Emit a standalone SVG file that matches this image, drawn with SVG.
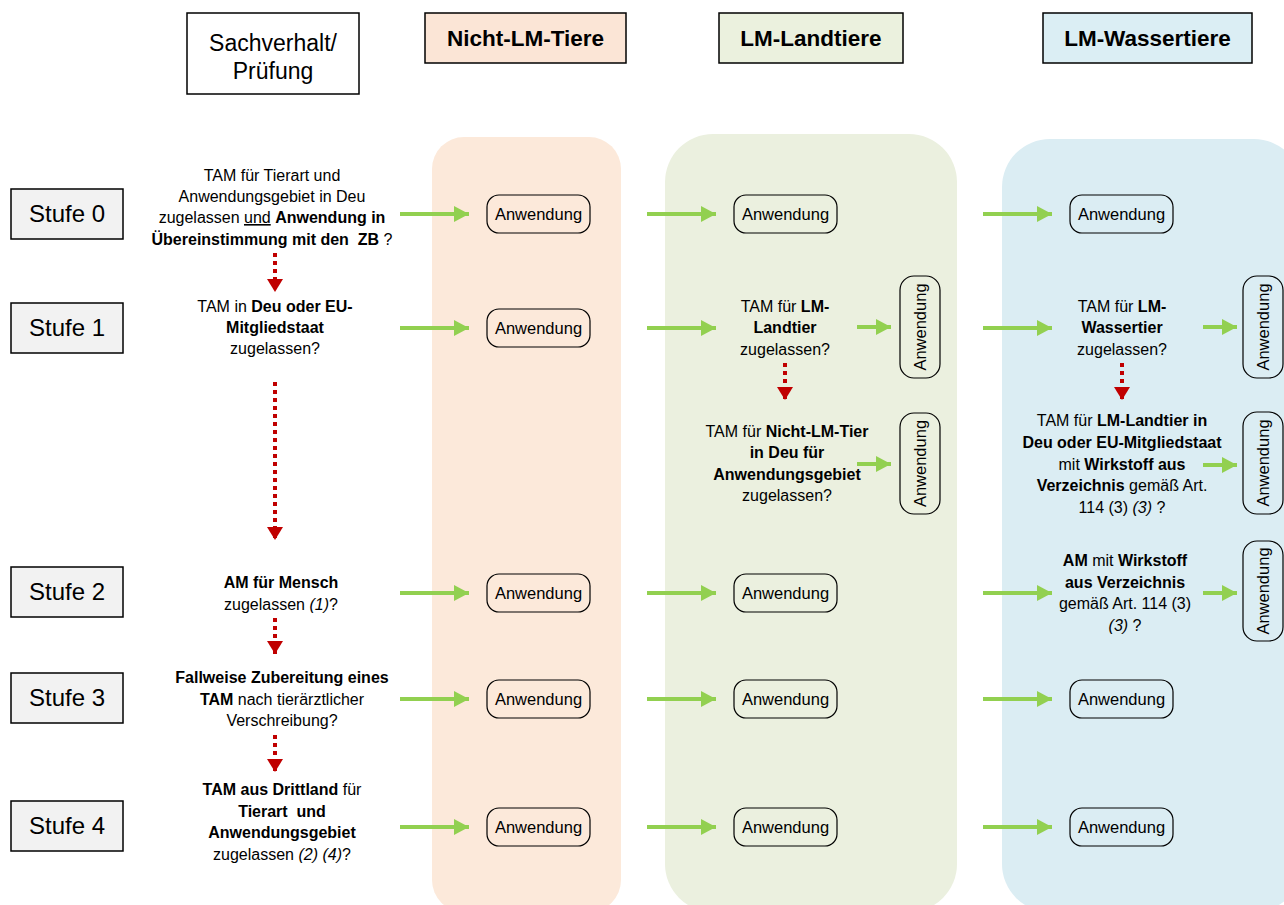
<svg xmlns="http://www.w3.org/2000/svg" width="1284" height="905" viewBox="0 0 1284 905">
<style>
text{font-family:"Liberation Sans",Arial,sans-serif;fill:#000}
.q{font-size:16px;text-anchor:middle}
.b{font-weight:bold}
.i{font-style:italic}
.hd{font-size:22.5px;font-weight:bold;text-anchor:middle}
.st{font-size:24px;text-anchor:middle}
.stufe{fill:#f2f2f2;stroke:#000;stroke-width:1.5}
.anw{fill:none;stroke:#000;stroke-width:1.2}
.at{font-size:16.5px;text-anchor:middle}
.g{stroke:#92d050;stroke-width:4;fill:none;marker-end:url(#ga)}
.r{stroke:#c00000;stroke-width:4;fill:none;stroke-dasharray:4 4;marker-end:url(#ra)}
</style>
<defs>
<marker id="ga" markerUnits="userSpaceOnUse" markerWidth="16" markerHeight="16" refX="15" refY="8" orient="auto"><path d="M0,0 L15,8 L0,16 z" fill="#92d050"/></marker>
<marker id="ra" markerUnits="userSpaceOnUse" markerWidth="14" markerHeight="16" refX="13" refY="8" orient="auto"><path d="M0,0 L13,8 L0,16 z" fill="#c00000"/></marker>
</defs>
<rect width="1284" height="905" fill="#fff"/>
<!-- columns -->
<g id="col-nicht-lm"><rect x="432" y="137" width="189" height="775" rx="32" fill="#fce9da"/></g>
<g id="col-landtiere"><rect x="665" y="134" width="292" height="778" rx="48" fill="#ebf0df"/></g>
<g id="col-wassertiere"><rect x="1002" y="139" width="300" height="773" rx="48" fill="#dbedf3"/></g>
<!-- headers -->
<g id="hdr-sachverhalt"><rect x="187" y="13" width="172" height="81" fill="#fff" stroke="#000" stroke-width="1.5"/>
<text x="273" y="51" font-size="23" text-anchor="middle">Sachverhalt/</text>
<text x="273" y="79" font-size="23" text-anchor="middle">Prüfung</text></g>
<g id="hdr-nicht-lm"><rect x="425" y="13" width="201" height="50" fill="#fbe5d6" stroke="#000" stroke-width="1.5"/><text class="hd" x="525.5" y="46">Nicht-LM-Tiere</text></g>
<g id="hdr-landtiere"><rect x="719" y="13" width="184" height="50" fill="#ebf1de" stroke="#000" stroke-width="1.5"/><text class="hd" x="811" y="46">LM-Landtiere</text></g>
<g id="hdr-wassertiere"><rect x="1043" y="13" width="209" height="50" fill="#dbeef4" stroke="#000" stroke-width="1.5"/><text class="hd" x="1147.5" y="46">LM-Wassertiere</text></g>
<!-- Stufen -->
<g id="stufe0"><rect class="stufe" x="11" y="189" width="112" height="50"/><text class="st" x="67" y="222">Stufe 0</text></g>
<g id="stufe1"><rect class="stufe" x="11" y="303" width="112" height="50"/><text class="st" x="67" y="336">Stufe 1</text></g>
<g id="stufe2"><rect class="stufe" x="11" y="567" width="112" height="50"/><text class="st" x="67" y="600">Stufe 2</text></g>
<g id="stufe3"><rect class="stufe" x="11" y="673" width="112" height="50"/><text class="st" x="67" y="706">Stufe 3</text></g>
<g id="stufe4"><rect class="stufe" x="11" y="801" width="112" height="50"/><text class="st" x="67" y="834">Stufe 4</text></g>
<!-- questions -->
<g id="q0">
<text class="q" x="272" y="181">TAM für Tierart und</text>
<text class="q" x="272" y="202">Anwendungsgebiet in Deu</text>
<text class="q" x="272" y="223">zugelassen <tspan text-decoration="underline">und</tspan> <tspan class="b">Anwendung in</tspan></text>
<text class="q" x="272" y="245"><tspan class="b">Übereinstimmung mit den&#160; ZB</tspan> ?</text>
</g>
<g id="q1">
<text class="q" x="275" y="312">TAM in <tspan class="b">Deu oder EU-</tspan></text>
<text class="q b" x="275" y="333">Mitgliedstaat</text>
<text class="q" x="275" y="354">zugelassen?</text>
</g>
<g id="q2">
<text class="q b" x="281" y="588">AM für Mensch</text>
<text class="q" x="281" y="610">zugelassen <tspan class="i">(1)</tspan>?</text>
</g>
<g id="q3">
<text class="q b" x="282" y="683">Fallweise Zubereitung eines</text>
<text class="q" x="282" y="705"><tspan class="b">TAM</tspan> nach tierärztlicher</text>
<text class="q" x="282" y="726">Verschreibung?</text>
</g>
<g id="q4">
<text class="q" x="282" y="795"><tspan class="b">TAM aus Drittland</tspan> für</text>
<text class="q b" x="282" y="817">Tierart&#160; und</text>
<text class="q b" x="282" y="838">Anwendungsgebiet</text>
<text class="q" x="282" y="860">zugelassen <tspan class="i">(2) (4)</tspan>?</text>
</g>
<g id="land-q1">
<text class="q" x="785" y="312">TAM für <tspan class="b">LM-</tspan></text>
<text class="q b" x="785" y="333">Landtier</text>
<text class="q" x="785" y="355">zugelassen?</text>
</g>
<g id="land-q1b">
<text class="q" x="787" y="437">TAM für <tspan class="b">Nicht-LM-Tier</tspan></text>
<text class="q b" x="787" y="458">in Deu für</text>
<text class="q b" x="787" y="480">Anwendungsgebiet</text>
<text class="q" x="787" y="501">zugelassen?</text>
</g>
<g id="wasser-q1">
<text class="q" x="1122" y="312">TAM für <tspan class="b">LM-</tspan></text>
<text class="q b" x="1122" y="333">Wassertier</text>
<text class="q" x="1122" y="355">zugelassen?</text>
</g>
<g id="wasser-q1b">
<text class="q" x="1122" y="426">TAM für <tspan class="b">LM-Landtier in</tspan></text>
<text class="q b" x="1122" y="448">Deu oder EU-Mitgliedstaat</text>
<text class="q" x="1122" y="470">mit <tspan class="b">Wirkstoff aus</tspan></text>
<text class="q" x="1122" y="491"><tspan class="b">Verzeichnis</tspan> gemäß Art.</text>
<text class="q" x="1122" y="513">114 (3) <tspan class="i">(3)</tspan> ?</text>
</g>
<g id="wasser-q2">
<text class="q" x="1125" y="566"><tspan class="b">AM</tspan> mit <tspan class="b">Wirkstoff</tspan></text>
<text class="q b" x="1125" y="588">aus Verzeichnis</text>
<text class="q" x="1125" y="609">gemäß Art. 114 (3)</text>
<text class="q" x="1125" y="631"><tspan class="i">(3)</tspan> ?</text>
</g>
<!-- Anwendung nodes -->
<g id="anw-n0"><rect class="anw" x="487" y="195" width="103" height="38" rx="12"/><text class="at" x="538.5" y="219.5">Anwendung</text></g>
<g id="anw-n1"><rect class="anw" x="487" y="309" width="103" height="38" rx="12"/><text class="at" x="538.5" y="333.5">Anwendung</text></g>
<g id="anw-n2"><rect class="anw" x="487" y="574" width="103" height="38" rx="12"/><text class="at" x="538.5" y="598.5">Anwendung</text></g>
<g id="anw-n3"><rect class="anw" x="487" y="680" width="103" height="38" rx="12"/><text class="at" x="538.5" y="704.5">Anwendung</text></g>
<g id="anw-n4"><rect class="anw" x="487" y="808" width="103" height="38" rx="12"/><text class="at" x="538.5" y="832.5">Anwendung</text></g>
<g id="anw-l0"><rect class="anw" x="734" y="195" width="103" height="38" rx="12"/><text class="at" x="785.5" y="219.5">Anwendung</text></g>
<g id="anw-l2"><rect class="anw" x="734" y="574" width="103" height="38" rx="12"/><text class="at" x="785.5" y="598.5">Anwendung</text></g>
<g id="anw-l3"><rect class="anw" x="734" y="680" width="103" height="38" rx="12"/><text class="at" x="785.5" y="704.5">Anwendung</text></g>
<g id="anw-l4"><rect class="anw" x="734" y="808" width="103" height="38" rx="12"/><text class="at" x="785.5" y="832.5">Anwendung</text></g>
<g id="anw-w0"><rect class="anw" x="1070" y="195" width="103" height="38" rx="12"/><text class="at" x="1121.5" y="219.5">Anwendung</text></g>
<g id="anw-w3"><rect class="anw" x="1070" y="680" width="103" height="38" rx="12"/><text class="at" x="1121.5" y="704.5">Anwendung</text></g>
<g id="anw-w4"><rect class="anw" x="1070" y="808" width="103" height="38" rx="12"/><text class="at" x="1121.5" y="832.5">Anwendung</text></g>
<g id="anw-l1"><rect class="anw" x="900" y="276" width="40" height="102" rx="14"/><text class="at" transform="translate(925.5,327) rotate(-90)" x="0" y="0">Anwendung</text></g>
<g id="anw-l1b"><rect class="anw" x="900" y="413" width="40" height="101" rx="14"/><text class="at" transform="translate(925.5,463.5) rotate(-90)" x="0" y="0">Anwendung</text></g>
<g id="anw-w1"><rect class="anw" x="1243" y="276" width="40" height="102" rx="14"/><text class="at" transform="translate(1268.5,327) rotate(-90)" x="0" y="0">Anwendung</text></g>
<g id="anw-w1b"><rect class="anw" x="1243" y="412" width="40" height="102" rx="14"/><text class="at" transform="translate(1268.5,463) rotate(-90)" x="0" y="0">Anwendung</text></g>
<g id="anw-w2"><rect class="anw" x="1243" y="541" width="40" height="100" rx="14"/><text class="at" transform="translate(1268.5,591) rotate(-90)" x="0" y="0">Anwendung</text></g>
<!-- connectors -->
<g id="connectors">
<line class="g" x1="400" y1="214" x2="469" y2="214"/>
<line class="g" x1="400" y1="328" x2="469" y2="328"/>
<line class="g" x1="400" y1="593" x2="469" y2="593"/>
<line class="g" x1="400" y1="699" x2="469" y2="699"/>
<line class="g" x1="400" y1="827" x2="469" y2="827"/>
<line class="g" x1="647" y1="214" x2="716" y2="214"/>
<line class="g" x1="647" y1="328" x2="716" y2="328"/>
<line class="g" x1="647" y1="593" x2="716" y2="593"/>
<line class="g" x1="647" y1="699" x2="716" y2="699"/>
<line class="g" x1="647" y1="827" x2="716" y2="827"/>
<line class="g" x1="983" y1="214" x2="1052" y2="214"/>
<line class="g" x1="983" y1="328" x2="1052" y2="328"/>
<line class="g" x1="983" y1="593" x2="1052" y2="593"/>
<line class="g" x1="983" y1="699" x2="1052" y2="699"/>
<line class="g" x1="983" y1="827" x2="1052" y2="827"/>
<line class="g" x1="857" y1="327" x2="891" y2="327"/>
<line class="g" x1="857" y1="464" x2="891" y2="464"/>
<line class="g" x1="1203" y1="327" x2="1237" y2="327"/>
<line class="g" x1="1203" y1="465" x2="1237" y2="465"/>
<line class="g" x1="1203" y1="593" x2="1237" y2="593"/>
<line class="r" x1="275" y1="253" x2="275" y2="292"/>
<line class="r" x1="275" y1="382" x2="275" y2="540"/>
<line class="r" x1="275" y1="618" x2="275" y2="654"/>
<line class="r" x1="275" y1="735" x2="275" y2="772"/>
<line class="r" x1="785" y1="363" x2="785" y2="400"/>
<line class="r" x1="1122" y1="363" x2="1122" y2="400"/>
</g>
</svg>
